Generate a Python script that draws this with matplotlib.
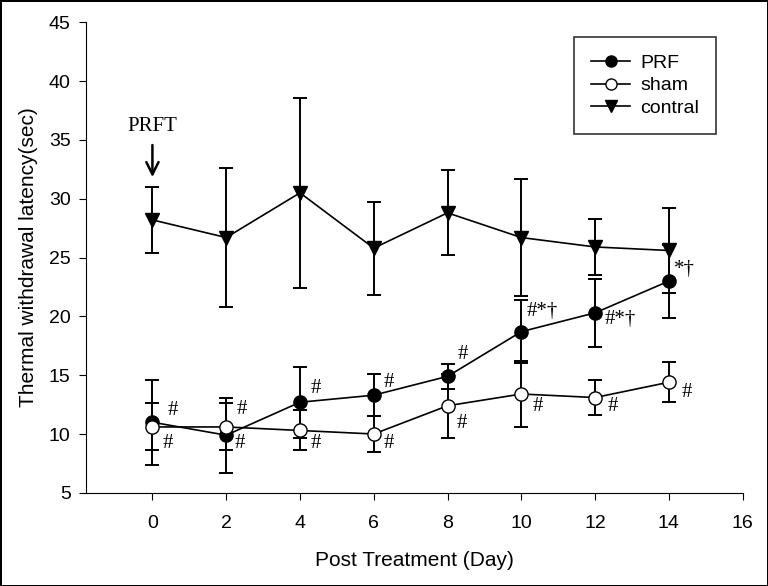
import matplotlib.pyplot as plt
from matplotlib.lines import Line2D

days = [0, 2, 4, 6, 8, 10, 12, 14]

prf_mean = [11.0, 9.9, 12.7, 13.3, 14.9, 18.7, 20.3, 23.0]
prf_err = [3.6, 3.2, 3.0, 1.8, 1.05, 2.7, 2.9, 3.1]

sham_mean = [10.6, 10.6, 10.3, 10.0, 12.4, 13.4, 13.1, 14.4]
sham_err = [2.0, 2.0, 1.7, 1.5, 2.7, 2.8, 1.5, 1.7]

contral_mean = [28.2, 26.7, 30.5, 25.8, 28.8, 26.7, 25.9, 25.6]
contral_err = [2.8, 5.9, 8.1, 3.95, 3.6, 5.0, 2.4, 3.6]

# significance marks: (day, value, label)
marks = [
    (0.54, 12.0, '#'), (0.41, 9.2, '#'),
    (2.38, 9.2, '#'), (2.41, 12.1, '#'),
    (4.44, 13.9, '#'), (4.44, 9.2, '#'),
    (6.42, 14.4, '#'), (6.42, 9.2, '#'),
    (8.42, 16.8, '#'), (8.39, 10.9, '#'),
    (10.58, 20.4, '#*†'), (10.45, 12.3, '#'),
    (12.67, 19.7, '#*†'), (12.48, 12.3, '#'),
    (14.43, 24.0, '*†'), (14.48, 13.5, '#'),
]

plt.rcParams['font.family'] = ['Liberation Sans', 'DejaVu Sans']
serif = ['Liberation Serif', 'DejaVu Serif']

fig = plt.figure(figsize=(7.68, 5.86), dpi=100)
fig.patch.set_edgecolor('black')
fig.patch.set_linewidth(2)
ax = fig.add_axes([0.112, 0.159, 0.855, 0.803])

ekw = dict(color='black', capsize=5, elinewidth=1.4, capthick=1.4, linewidth=1.2, markersize=9.5)
ax.errorbar(days, prf_mean, yerr=prf_err, marker='o', mfc='black', mec='black', **ekw)
ax.errorbar(days, sham_mean, yerr=sham_err, marker='o', mfc='white', mec='black', **ekw)
ax.errorbar(days, contral_mean, yerr=contral_err, marker='v', mfc='black', mec='black', **ekw)

for x, y, t in marks:
    ax.text(x, y, t, ha='center', va='center', fontsize=15, family=serif)

ax.text(0, 36.1, 'PRFT', ha='center', va='center', fontsize=15, family=serif)
ax.annotate('', xy=(0, 31.6), xytext=(0, 34.8),
            arrowprops=dict(arrowstyle='->', color='black', lw=1.8, mutation_scale=22))

ax.set_xlim(-1.8, 16)
ax.set_ylim(5, 45)
ax.set_xticks(range(0, 17, 2))
ax.set_yticks(range(5, 46, 5))
ax.spines['top'].set_visible(False)
ax.spines['right'].set_visible(False)
ax.tick_params(axis='x', direction='out', length=5, pad=11, labelsize=14)
ax.tick_params(axis='y', direction='out', length=5, pad=6, labelsize=14)

ax.set_xlabel('Post Treatment (Day)', fontsize=15, labelpad=14)
ax.set_ylabel('Thermal withdrawal latency(sec)', fontsize=15, labelpad=8)

handles = [
    Line2D([], [], color='black', lw=1.2, marker='o', mfc='black', mec='black', markersize=8),
    Line2D([], [], color='black', lw=1.2, marker='o', mfc='white', mec='black', markersize=8),
    Line2D([], [], color='black', lw=1.2, marker='v', mfc='black', mec='black', markersize=8),
]
leg = ax.legend(handles, ['PRF', 'sham', 'contral'], loc='upper right', bbox_to_anchor=(0.960, 0.969),
                borderaxespad=0, fontsize=14, frameon=True, fancybox=False, edgecolor='black',
                handlelength=2.0, borderpad=0.9, labelspacing=0.25, handletextpad=0.5)
leg.get_frame().set_linewidth(1.2)

fig.savefig('out.png', dpi=100)
